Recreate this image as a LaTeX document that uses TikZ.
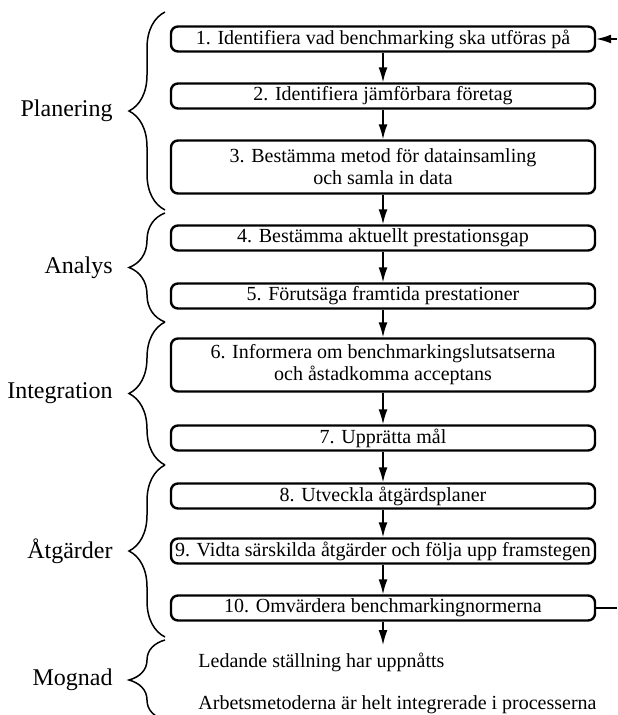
\documentclass[tikz,border=0pt]{standalone}
\usepackage{fontspec}
\setmainfont{Liberation Serif}
\usetikzlibrary{decorations.pathreplacing,arrows.meta}
\begin{document}
\begin{tikzpicture}[x=0.5pt,y=-0.5pt]
  \tikzstyle{box}=[draw,line width=1.2pt,rounded corners=3.5pt,minimum width=212pt,minimum height=12.5pt,inner sep=1pt,align=center,font=\fontsize{10}{11}\selectfont]
  \tikzstyle{phase}=[anchor=east,inner sep=0pt,font=\fontsize{12}{14}\selectfont]
  \tikzstyle{grp}=[decorate,decoration={brace,amplitude=18pt},line width=0.75pt]
  \tikzstyle{flow}=[-{Latex[length=7.5pt,width=4.5pt]},line width=0.75pt]
  \useasboundingbox (0,0) rectangle (617,715);

  % steps
  \node[box] (b1) at (383,39) {1. Identifiera vad benchmarking ska utföras på};
  \node[box] (b2) at (383,96) {2. Identifiera jämförbara företag};
  \node[box,minimum height=26.5pt] (b3) at (383,167) {3. Bestämma metod för datainsamling\\och samla in data};
  \node[box] (b4) at (383,238) {4. Bestämma aktuellt prestationsgap};
  \node[box] (b5) at (383,296) {5. Förutsäga framtida prestationer};
  \node[box,minimum height=26.5pt] (b6) at (383,365) {6. Informera om benchmarkingslutsatserna\\och åstadkomma acceptans};
  \node[box] (b7) at (383,438) {7. Upprätta mål};
  \node[box] (b8) at (383,496) {8. Utveckla åtgärdsplaner};
  \node[box] (b9) at (383,551) {9. Vidta särskilda åtgärder och följa upp framstegen};
  \node[box] (b10) at (383,608) {10. Omvärdera benchmarkingnormerna};

  % maturity
  \coordinate (m0) at (383,645);
  \node[anchor=west,inner sep=0pt,font=\fontsize{10}{11}\selectfont] (m1) at (198,662) {Ledande ställning har uppnåtts};
  \node[anchor=west,inner sep=0pt,font=\fontsize{10}{11}\selectfont] (m2) at (198,705) {Arbetsmetoderna är helt integrerade i processerna};

  \coordinate (fbin) at (617,39);
  \coordinate (fbout) at (617,608);

  \foreach \a/\b in {b1/b2,b2/b3,b3/b4,b4/b5,b5/b6,b6/b7,b7/b8,b8/b9,b9/b10}
    \draw[flow] (\a) -- (\b);
  \draw[flow] (b10) -- (m0);
  \draw[flow] (fbin) -- (b1);
  \draw[line width=0.75pt] (b10) -- (fbout);

  % phases
  \draw[grp] (165,210) -- (165,12);
  \draw[grp] (165,322) -- (165,213);
  \draw[grp] (165,465) -- (165,322);
  \draw[grp] (165,637) -- (165,465);
  \draw[grp] (165,720) -- (165,640);
  \node[phase] (p1) at (113,111) {Planering};
  \node[phase] (p2) at (113,268) {Analys};
  \node[phase] (p3) at (113,393) {Integration};
  \node[phase] (p4) at (113,551) {Åtgärder};
  \node[phase] (p5) at (113,680) {Mognad};
\end{tikzpicture}
\end{document}
